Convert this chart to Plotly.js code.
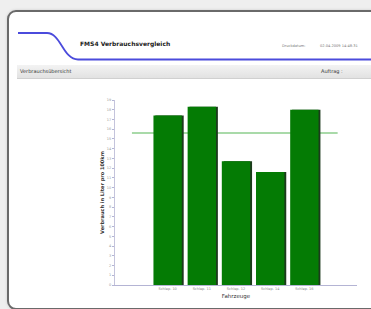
<!DOCTYPE html>
<html>
<head>
<meta charset="utf-8">
<script src="https://cdn.plot.ly/plotly-3.0.1.min.js"></script>
<style>
  html, body { margin:0; padding:0; }
  body { width:371px; height:309px; overflow:hidden; background:#efefef; position:relative; font-family:"DejaVu Sans", "Liberation Sans", sans-serif; }
  #card { position:absolute; left:7px; top:10px; width:420px; height:296px; border:2px solid #6a6a6a; border-radius:9px; background:#fff; box-shadow:0 0 3px rgba(0,0,0,0.15); }
  #deco { position:absolute; left:0; top:0; }
  .t { position:absolute; white-space:nowrap; line-height:1; }
  #band { position:absolute; left:17px; top:65px; width:360px; height:13px; background:linear-gradient(#f3f3f3,#e2e2e2); border-bottom:1px solid #d0d0d0; }
  #chart { position:absolute; left:0; top:0; width:371px; height:309px; }
</style>
</head>
<body>
<div id="card"></div>
<svg id="deco" width="371" height="309">
  <path d="M18,33 L47,33 C61,33 63,59.5 78,59.5 L371,59.5" fill="none" stroke="#4b4bdc" stroke-width="1.8"/>
</svg>
<div id="band"></div>
<div class="t" style="left:80px;top:41px;font-size:6px;font-weight:bold;color:#222;">FMS4 Verbrauchsvergleich</div>
<div class="t" style="left:282px;top:45px;font-size:3.6px;color:#777;">Druckdatum:</div>
<div class="t" style="left:320px;top:45px;font-size:3.6px;color:#777;">02.04.2009 14:48:31</div>
<div class="t" style="left:20px;top:69px;font-size:5px;color:#333;">Verbrauchsübersicht</div>
<div class="t" style="left:321px;top:69px;font-size:5px;color:#333;">Auftrag :</div>
<div id="chart"></div>
<script>
const categories = ["Schlep. 10", "Schlep. 11", "Schlep. 12", "Schlep. 14", "Schlep. 16"];
const consumption = [17.4, 18.3, 12.7, 11.6, 18.0];
const yTickValues = [0,1,2,3,4,5,6,7,8,9,10,11,12,13,14,15,16,17,18,19];

const avg = consumption.reduce((a, b) => a + b, 0) / consumption.length;
const idx = categories.map((_, i) => i);

const shadow = {
  type: "bar", x: idx, y: consumption, width: 0.83, offset: -0.36,
  marker: { color: "#1c3a1c" }, hoverinfo: "skip", showlegend: false
};
const bars = {
  type: "bar", x: idx, y: consumption, width: 0.83, offset: -0.415,
  marker: { color: "#047b04", line: { width: 0 } }, showlegend: false
};

const layout = {
  width: 371, height: 309,
  margin: { l: 115, r: 14, t: 100, b: 24 },
  paper_bgcolor: "rgba(0,0,0,0)",
  plot_bgcolor: "rgba(0,0,0,0)",
  font: { family: "DejaVu Sans, Liberation Sans, sans-serif", color: "#333" },
  showlegend: false,
  barmode: "overlay",
  xaxis: {
    range: [-1.54, 5.54],
    tickvals: idx, ticktext: categories,
    tickfont: { size: 3.5, color: "#888" },
    ticks: "", showgrid: false, zeroline: false,
    showline: true, linecolor: "#b4b4d4", linewidth: 1,
    title: { text: "Fahrzeuge", font: { size: 5.5, color: "#333" }, standoff: 3 }
  },
  yaxis: {
    range: [0, 19],
    tickvals: yTickValues,
    tickfont: { size: 3.5, color: "#999" },
    ticks: "outside", ticklen: 2, tickcolor: "#b4b4d4",
    showgrid: false, zeroline: false,
    showline: true, linecolor: "#c4c4dc", linewidth: 1,
    title: { text: "<b>Verbrauch in Liter pro 100km</b>", font: { size: 5, color: "#333" }, standoff: 2 }
  },
  shapes: [{
    type: "line", xref: "paper", yref: "y",
    x0: 0.07, x1: 0.92, y0: avg, y1: avg,
    line: { color: "#a9daa9", width: 2 }, layer: "below"
  }]
};

Plotly.newPlot("chart", [shadow, bars], layout, { displayModeBar: false, staticPlot: true });
</script>
</body>
</html>
